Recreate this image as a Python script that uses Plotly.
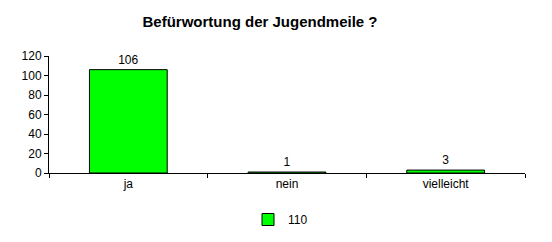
import plotly.graph_objects as go

categories = ["ja", "nein", "vielleicht"]
values = [106, 1, 3]
series_name = "110"
y_ticks = [0, 20, 40, 60, 80, 100, 120]

fig = go.Figure()
fig.add_trace(go.Bar(
    x=categories, y=values, name=series_name,
    marker=dict(color="#00FF00", line=dict(color="black", width=1)),
    width=0.49,
    text=[str(v) for v in values], textposition="outside",
    textfont=dict(family="Liberation Sans, Arial", size=12, color="black"),
    cliponaxis=False,
    showlegend=True,
))

fig.update_layout(
    width=552, height=242,
    margin=dict(l=49, r=27, t=56, b=69, autoexpand=False),
    paper_bgcolor="white", plot_bgcolor="white",
    font=dict(family="Liberation Sans, Arial", size=12, color="black"),
    title=dict(text="<b>Befürwortung der Jugendmeile ?</b>", x=260/552, xanchor="center",
               y=1 - 22/242, yanchor="middle",
               font=dict(family="Liberation Sans, Arial", size=15, color="black")),
    showlegend=True,
    legend=dict(orientation="h", x=248/552, xref="container", xanchor="left",
                y=1 - 205/242, yref="container", yanchor="top",
                font=dict(size=12), itemwidth=30, tracegroupgap=0),
    bargap=0.51,
)
fig.update_xaxes(showline=True, linecolor="black", linewidth=1, ticks="outside",
                 tickson="boundaries", ticklen=4, tickcolor="black", showgrid=False,
                 zeroline=False)
fig.update_yaxes(range=[0, 120], tickvals=y_ticks, showline=True, linecolor="black",
                 linewidth=1, ticks="outside", ticklen=4, tickcolor="black",
                 showgrid=False, zeroline=False, ticklabelstandoff=0)

fig.write_html("out.html")
